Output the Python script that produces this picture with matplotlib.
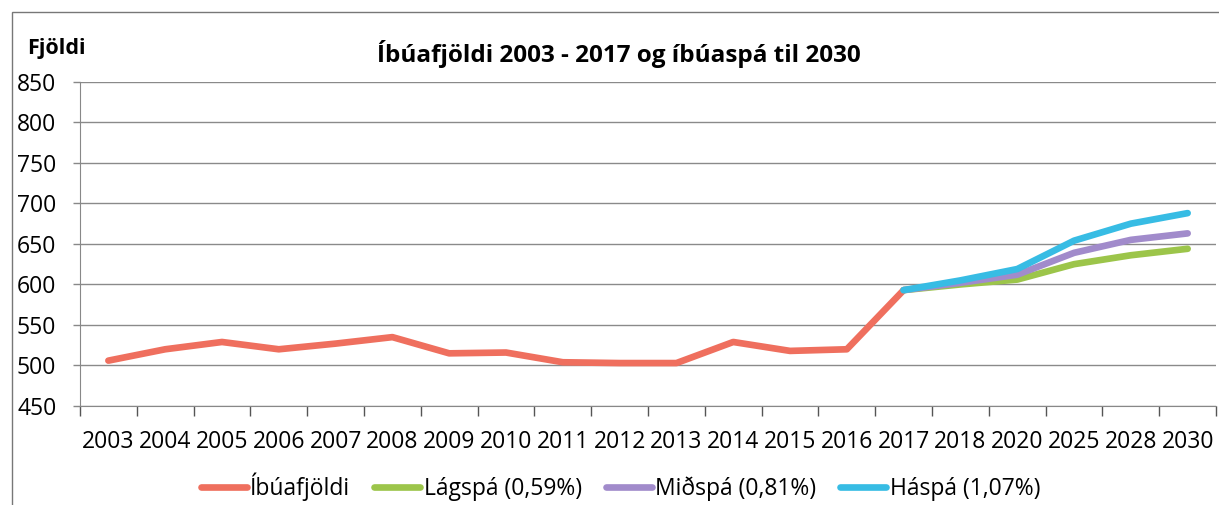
import numpy as np
import matplotlib.pyplot as plt
from matplotlib.patches import Rectangle

plt.rcParams['font.family'] = ['Open Sans', 'DejaVu Sans']

years = ['2003', '2004', '2005', '2006', '2007', '2008', '2009', '2010', '2011', '2012',
         '2013', '2014', '2015', '2016', '2017', '2018', '2020', '2025', '2028', '2030']
nan = np.nan
ibuafjoldi = [506, 520, 529, 520, 527, 535, 515, 516, 504, 503,
              503, 529, 518, 520, 593, nan, nan, nan, nan, nan]
lagspa = [nan] * 14 + [593, 600, 606, 625, 636, 644]
midspa = [nan] * 14 + [593, 602, 612, 639, 655, 663]
haspa = [nan] * 14 + [593, 605, 619, 654, 675, 688]

c_red = '#EF6F5E'
c_green = '#9CC54A'
c_purple = '#A18BCB'
c_blue = '#37BCE4'

fig = plt.figure(figsize=(12.19, 5.05), dpi=100)
ax = fig.add_axes([0.0656, 0.196, 0.932, 0.642])

x = np.arange(len(years))
lw = 4.8
ax.plot(x, ibuafjoldi, color=c_red, lw=lw, label='Íbúafjöldi', solid_capstyle='round')
ax.plot(x, lagspa, color=c_green, lw=lw, label='Lágspá (0,59%)', solid_capstyle='round')
ax.plot(x, midspa, color=c_purple, lw=lw, label='Miðspá (0,81%)', solid_capstyle='round')
ax.plot(x, haspa, color=c_blue, lw=lw, label='Háspá (1,07%)', solid_capstyle='round')

ax.set_xlim(-0.5, len(years) - 0.5)
ax.set_ylim(450, 850)
ax.set_yticks(np.arange(450, 851, 50))
ax.tick_params(axis='y', labelsize=16.5, length=5, color='#888888', width=1, pad=12)
ax.yaxis.grid(True, color='#8a8a8a', lw=1)
ax.set_axisbelow(True)

# ticks between categories, labels at centres
ax.set_xticks(np.arange(len(years) + 1) - 0.5)
ax.set_xticklabels([])
ax.tick_params(axis='x', which='major', length=7, color='#555555', width=1)
ax.set_xticks(x, minor=True)
ax.set_xticklabels(years, minor=True)
ax.tick_params(axis='x', which='minor', length=0, labelsize=16.5, pad=17)

for s in ['top', 'right']:
    ax.spines[s].set_visible(False)
ax.spines['left'].set_color('#888888')
ax.spines['bottom'].set_color('#888888')

fig.text(0.508, 0.877, 'Íbúafjöldi 2003 - 2017 og íbúaspá til 2030', ha='center',
         va='baseline', fontsize=17.5, fontweight='bold')
fig.text(0.022, 0.893, 'Fjöldi', ha='left', va='baseline', fontsize=15.5, fontweight='bold')

fig.legend(loc='center', bbox_to_anchor=(0.509, 0.036), ncol=4, frameon=False,
           fontsize=16.5, handlelength=2.0, handletextpad=0.15, columnspacing=1.05)

fig.patches.append(Rectangle((0.0098, -0.1), 1.2, 1.076, transform=fig.transFigure,
                             fill=False, edgecolor='#777777', lw=1))

fig.savefig('out.png', dpi=100)
